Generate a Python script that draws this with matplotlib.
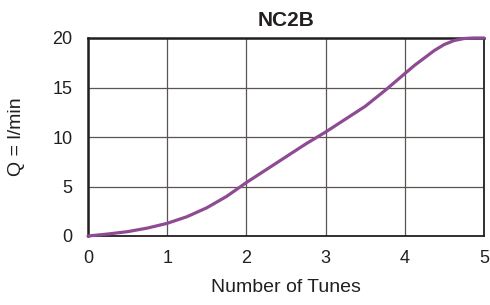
import matplotlib
matplotlib.use("Agg")
import matplotlib.pyplot as plt

# flow curve
turns = [0, 0.25, 0.5, 0.75, 1, 1.25, 1.5, 1.75, 2, 2.25, 2.5, 2.75,
         3, 3.25, 3.5, 3.75, 4, 4.125, 4.25, 4.375, 4.5, 4.625, 4.75, 4.875, 5]
flow = [0, 0.2, 0.44, 0.8, 1.28, 1.95, 2.85, 4.0, 5.4, 6.7, 8.0, 9.3,
        10.5, 11.8, 13.1, 14.7, 16.4, 17.25, 18.0, 18.75, 19.35, 19.75, 19.95, 20.0, 20.0]
xticks = [0, 1, 2, 3, 4, 5]
yticks = [0, 5, 10, 15, 20]

plt.rcParams['font.family'] = ['Liberation Sans', 'DejaVu Sans']

fig = plt.figure(figsize=(4.9, 3.05), dpi=100)
ax = fig.add_axes([88/490, 1 - 236/305, (484-88)/490, (236-38)/305])

ax.plot(turns, flow, color="#8e4b93", lw=2.3, solid_capstyle="round",
        solid_joinstyle="round", zorder=3, clip_on=False)

ax.set_xlim(0, 5)
ax.set_ylim(0, 20)
ax.set_xticks(xticks)
ax.set_yticks(yticks)
ax.grid(True, color="#5a5550", lw=0.9)
ax.tick_params(length=0, labelsize=13, colors="#231f20")
ax.tick_params(axis="x", pad=10)
ax.tick_params(axis="y", pad=11)
for side in ["left", "top"]:
    ax.spines[side].set_linewidth(1.8)
for side in ["right", "bottom"]:
    ax.spines[side].set_linewidth(1.3)
for s in ax.spines.values():
    s.set_color("#231f20")

ax.set_title("NC2B", fontsize=15, fontweight="bold", color="#231f20", pad=9)
ax.set_xlabel("Number of Tunes", fontsize=14, color="#231f20", labelpad=9)
ax.set_ylabel("Q = l/min", fontsize=14, color="#231f20", labelpad=20)

plt.savefig("out.png", dpi=100)
